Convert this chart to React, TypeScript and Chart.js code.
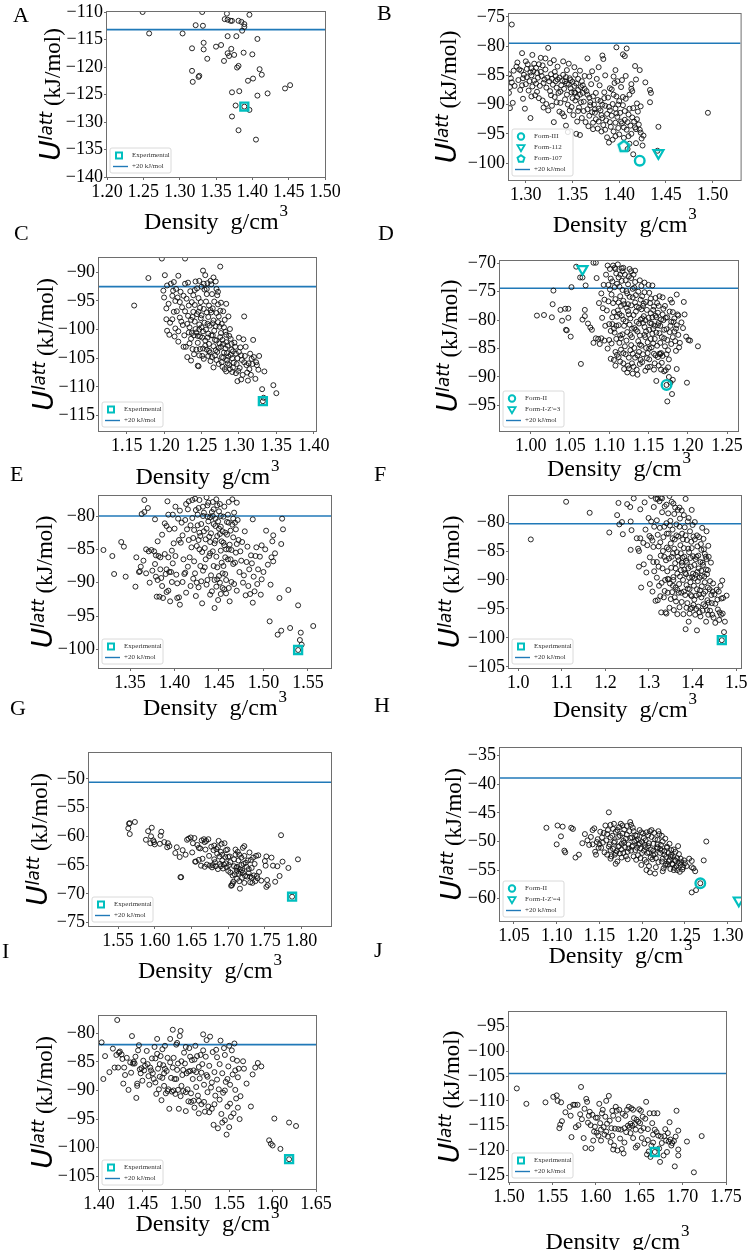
import React, { useEffect, useRef } from 'react';
import { Chart, registerables } from 'chart.js';
Chart.register(...registerables);

type Pt = [number, number];

// ---------------- DATA ----------------
const structuresA: Pt[] = [
  [1.249,-110.0],[1.258,-113.9],[1.331,-110.0],[1.322,-112.4],[1.332,-112.5],[1.304,-113.9],[1.317,-116.6],
  [1.333,-115.6],[1.333,-116.8],[1.338,-118.5],[1.350,-116.3],[1.357,-116.0],[1.317,-120.7],[1.318,-122.7],
  [1.326,-121.8],[1.327,-121.6],[1.362,-111.3],[1.365,-110.3],[1.366,-111.4],[1.370,-111.6],[1.372,-111.6],
  [1.366,-114.4],[1.378,-114.4],[1.381,-111.6],[1.385,-111.8],[1.389,-112.2],[1.389,-112.7],[1.386,-113.4],
  [1.396,-110.5],[1.407,-114.9],[1.371,-116.7],[1.366,-117.5],[1.368,-118.0],[1.375,-117.8],[1.388,-117.4],
  [1.400,-117.7],[1.361,-118.9],[1.379,-120.1],[1.381,-119.8],[1.410,-120.4],[1.413,-121.4],[1.394,-122.5],
  [1.401,-122.1],[1.372,-124.6],[1.382,-124.4],[1.407,-125.2],[1.421,-124.8],[1.445,-123.9],[1.452,-123.3],
  [1.377,-127.0],[1.389,-127.2],[1.396,-127.8],[1.372,-129.0],[1.381,-131.5],[1.405,-133.2]
];
const experimentalA: Pt[] = [[1.389, -127.2]];
const cutoffA = -113.2;
const xTicksA = [1.20, 1.25, 1.30, 1.35, 1.40, 1.45, 1.50];
const yTicksA = [-140, -135, -130, -125, -120, -115, -110];

const structuresB: Pt[] = [
  [1.285,-76.3],[1.495,-91.4],[1.442,-93.8],[1.441,-97.9],[1.425,-97.0],[1.415,-98.5],[1.411,-96.7],[1.409,-97.6],
  [1.324,-80.3],[1.397,-80.2],[1.404,-81.4],[1.406,-81.7],[1.408,-80.4],[1.296,-81.2],[1.307,-81.5],[1.366,-82.1],
  [1.382,-81.6],[1.383,-82.2],[1.291,-82.8],[1.321,-82.1],[1.330,-82.4],[1.340,-82.6],[1.417,-83.4],[1.422,-84.1],
  [1.396,-84.1],[1.418,-85.7],[1.428,-86.2],[1.433,-87.5],[1.434,-88.0],[1.433,-89.6],[1.423,-90.3],[1.407,-85.1],
  [1.413,-86.5],[1.413,-87.3],
  [1.282,-84.8],[1.284,-85.5],[1.285,-86.2],[1.283,-87.0],[1.282,-88.0],[1.286,-89.7],[1.283,-90.6],[1.290,-83.5],
  [1.293,-84.0],[1.295,-84.2],[1.297,-85.5],[1.294,-87.5],[1.297,-89.0],[1.300,-86.5],[1.300,-82.6],[1.302,-83.1],
  [1.305,-84.5],[1.306,-85.0],[1.304,-86.0],[1.308,-84.3],[1.309,-83.0],[1.311,-83.7],[1.313,-85.4],[1.315,-86.8],
  [1.312,-87.8],[1.310,-88.4],[1.305,-92.3],[1.316,-84.4],[1.318,-83.3],[1.320,-85.7],[1.322,-87.1],[1.318,-89.3],
  [1.322,-89.9],[1.325,-86.0],[1.327,-84.8],[1.329,-86.6],[1.331,-88.7],[1.333,-87.1],[1.328,-90.2],[1.324,-91.0],
  [1.330,-93.0],[1.336,-85.4],[1.338,-86.7],[1.340,-84.9],[1.342,-86.0],[1.344,-88.3],[1.337,-89.7],[1.339,-91.5],
  [1.341,-92.0],[1.343,-93.6],[1.345,-90.0],[1.345,-94.7],[1.347,-85.5],[1.348,-87.2],[1.350,-88.9],[1.352,-86.8],
  [1.353,-89.3],[1.351,-91.8],[1.354,-95.0],[1.356,-87.5],[1.358,-88.3],[1.357,-90.5],[1.360,-86.0],[1.360,-92.3],
  [1.362,-89.5],[1.363,-85.1],[1.365,-87.7],[1.366,-90.8],[1.367,-93.7],[1.358,-95.2],[1.368,-88.8],[1.370,-86.5],
  [1.371,-91.3],[1.372,-93.1],[1.373,-90.0],[1.375,-88.0],[1.375,-92.5],[1.377,-94.1],[1.378,-90.7],[1.379,-86.7],
  [1.380,-89.4],[1.381,-91.8],[1.383,-93.5],[1.384,-87.9],[1.385,-90.2],[1.386,-92.7],[1.387,-95.6],[1.388,-88.8],
  [1.389,-96.5],[1.390,-91.0],[1.391,-93.8],[1.392,-87.4],[1.393,-89.9],[1.394,-94.6],[1.395,-86.3],[1.396,-90.7],
  [1.397,-88.6],[1.398,-92.1],[1.399,-94.0],[1.400,-89.4],[1.401,-91.4],[1.402,-87.0],[1.403,-93.2],[1.404,-90.1],
  [1.405,-95.7],[1.406,-92.6],[1.407,-89.0],[1.408,-94.3],[1.410,-91.7],[1.411,-88.3],[1.412,-93.6],[1.413,-95.0],
  [1.415,-90.6],[1.416,-92.9],[1.418,-94.2],[1.420,-91.2],[1.421,-93.4],[1.423,-94.8],[1.424,-95.8],[1.419,-89.8],
  [1.414,-87.7],[1.376,-85.6],[1.368,-85.2],[1.353,-84.9],[1.358,-84.2],[1.346,-83.0],[1.334,-83.5],[1.316,-82.0],
  [1.326,-82.9],[1.335,-88.0],[1.347,-91.0],[1.355,-92.9],[1.362,-91.1],[1.385,-94.3],[1.396,-95.4],[1.344,-86.4],
  [1.349,-87.9],[1.355,-88.7],[1.361,-88.0],[1.369,-90.1],[1.374,-91.4],[1.382,-92.3],[1.390,-93.0],[1.311,-86.4]
];
const structuresBExtra: Pt[] = [
  [1.292,-85.8],[1.296,-86.7],[1.298,-84.9],[1.301,-85.3],[1.303,-87.6],[1.306,-83.8],[1.307,-86.9],[1.309,-85.9],
  [1.312,-84.6],[1.314,-83.1],[1.317,-85.1],[1.319,-86.3],[1.321,-84.0],[1.323,-85.4],[1.326,-87.7],[1.328,-85.6],
  [1.331,-84.4],[1.332,-86.0],[1.334,-85.7],[1.337,-87.8],[1.339,-85.9],[1.341,-87.3],[1.343,-85.3],[1.346,-86.6],
  [1.348,-85.8],[1.350,-86.1],[1.352,-87.9],[1.354,-86.4],[1.356,-85.6],[1.359,-87.0],[1.361,-86.7],[1.314,-88.9],
  [1.319,-90.5],[1.327,-88.4],[1.333,-89.6],[1.336,-91.2],[1.342,-89.1],[1.349,-90.4],[1.353,-88.0],[1.356,-91.1],
  [1.359,-89.6],[1.363,-87.3],[1.366,-88.3],[1.369,-89.6],[1.372,-88.6],[1.374,-90.8],[1.377,-89.2],[1.380,-91.0],
  [1.382,-90.0],[1.384,-88.9],[1.387,-91.6],[1.389,-90.4],[1.392,-91.9],[1.394,-88.3],[1.397,-91.5],[1.399,-90.0],
  [1.402,-92.9],[1.404,-88.7],[1.406,-91.1],[1.409,-93.0],[1.411,-90.7],[1.414,-92.2],[1.417,-93.9],[1.419,-92.5],
  [1.422,-94.3],[1.426,-95.3],[1.378,-92.9],[1.372,-94.2],[1.368,-91.9],[1.364,-93.0],[1.390,-87.2],[1.394,-85.2],
  [1.398,-86.0],[1.403,-85.8],[1.385,-85.0],[1.378,-83.6],[1.371,-84.3],[1.352,-83.6],[1.344,-84.1],[1.332,-85.1],
  [1.306,-88.6],[1.299,-90.7],[1.301,-83.9],[1.288,-86.8],[1.287,-84.2],[1.381,-94.6],[1.393,-96.0],[1.400,-95.1],
  [1.410,-95.4],[1.418,-96.6],[1.405,-93.9],[1.396,-93.1]
];
const formIIIB: Pt[] = [[1.422, -99.6]];
const form112B: Pt[] = [[1.442, -98.3]];
const form107B: Pt[] = [[1.405, -97.1]];
const cutoffB = -79.5;
const xTicksB = [1.30, 1.35, 1.40, 1.45, 1.50];
const yTicksB = [-100, -95, -90, -85, -80, -75];

const structuresC: Pt[] = [
  [1.160,-95.8],[1.179,-91.0],[1.197,-87.6],[1.228,-87.6],[1.275,-89.0],[1.346,-109.7],[1.350,-111.1],[1.334,-107.3],
  [1.331,-110.4],[1.333,-111.9],[1.307,-97.7],[1.319,-101.8],[1.323,-105.7],[1.327,-104.6],[1.312,-108.9],[1.298,-109.0],
  [1.303,-108.7],[1.322,-108.6],[1.316,-107.9],[1.311,-107.5],
  [1.201,-90.5],[1.204,-92.3],[1.199,-93.2],[1.200,-94.4],[1.203,-96.3],[1.203,-98.2],[1.204,-100.2],[1.207,-100.9],
  [1.209,-92.0],[1.213,-91.7],[1.211,-94.1],[1.215,-95.0],[1.213,-96.9],[1.217,-96.8],[1.211,-98.2],[1.215,-99.8],
  [1.219,-100.3],[1.216,-92.9],[1.219,-90.6],[1.222,-93.4],[1.224,-96.1],[1.221,-97.9],[1.225,-99.2],[1.227,-101.0],
  [1.229,-103.0],[1.228,-92.0],[1.230,-94.6],[1.232,-97.6],[1.234,-99.6],[1.236,-101.6],[1.238,-103.4],[1.240,-104.3],
  [1.235,-93.3],[1.237,-95.2],[1.239,-96.9],[1.241,-98.6],[1.243,-100.5],[1.245,-102.3],[1.247,-104.5],[1.245,-106.3],
  [1.242,-91.6],[1.244,-92.8],[1.246,-94.5],[1.248,-96.2],[1.249,-98.0],[1.250,-99.6],[1.251,-101.4],[1.252,-103.3],
  [1.253,-105.1],[1.250,-92.5],[1.252,-89.7],[1.254,-93.0],[1.256,-95.1],[1.257,-97.0],[1.258,-99.0],[1.259,-100.7],
  [1.260,-102.5],[1.261,-104.0],[1.262,-105.5],[1.258,-91.9],[1.262,-91.5],[1.264,-93.8],[1.265,-96.3],[1.266,-98.4],
  [1.267,-100.2],[1.268,-101.8],[1.269,-103.6],[1.270,-105.3],[1.266,-90.9],[1.270,-92.9],[1.272,-95.6],[1.273,-97.7],
  [1.274,-99.5],[1.275,-101.3],[1.276,-103.0],[1.277,-104.8],[1.278,-106.5],[1.276,-95.3],[1.279,-96.8],[1.281,-98.3],
  [1.282,-100.4],[1.283,-102.2],[1.284,-104.1],[1.285,-105.9],[1.283,-107.3],[1.286,-97.7],[1.288,-99.9],[1.289,-101.6],
  [1.290,-103.5],[1.291,-105.0],[1.292,-106.6],[1.294,-102.3],[1.296,-104.2],[1.297,-106.0],[1.299,-107.2],[1.300,-101.4],
  [1.302,-103.1],[1.304,-105.3],[1.306,-101.7],[1.308,-104.6],[1.310,-106.2],[1.313,-105.9],[1.315,-104.2],[1.318,-106.0],
  [1.283,-95.5],[1.271,-94.0],[1.255,-90.5],[1.263,-97.0],[1.247,-100.0],[1.233,-100.5],[1.226,-103.0],[1.238,-97.8],
  [1.257,-103.5],[1.265,-101.0],[1.273,-103.2],[1.280,-104.0],[1.287,-106.2],[1.279,-102.5],[1.259,-104.6],[1.243,-103.5],
  [1.246,-106.4],[1.248,-101.2],[1.255,-101.9],[1.266,-106.6],[1.270,-97.1],[1.277,-99.0],[1.260,-95.8],[1.332,-112.5]
];
const structuresCExtra: Pt[] = [
  [1.221,-95.2],[1.223,-98.6],[1.226,-94.1],[1.228,-96.8],[1.231,-99.0],[1.233,-95.8],[1.234,-102.4],[1.236,-98.3],
  [1.237,-100.6],[1.239,-94.0],[1.240,-101.0],[1.241,-95.7],[1.242,-99.9],[1.244,-97.3],[1.245,-101.1],[1.246,-96.9],
  [1.247,-99.1],[1.248,-103.4],[1.249,-95.2],[1.250,-97.5],[1.251,-104.6],[1.252,-100.3],[1.253,-96.4],[1.254,-98.8],
  [1.255,-102.8],[1.256,-100.0],[1.257,-93.8],[1.258,-101.4],[1.259,-97.8],[1.260,-103.7],[1.261,-99.3],[1.262,-96.6],
  [1.263,-101.0],[1.264,-104.8],[1.265,-98.9],[1.266,-102.9],[1.267,-95.1],[1.268,-104.5],[1.269,-99.4],[1.270,-101.9],
  [1.271,-103.9],[1.272,-98.7],[1.273,-106.0],[1.274,-102.4],[1.275,-96.7],[1.276,-100.6],[1.277,-105.7],[1.278,-101.8],
  [1.279,-104.9],[1.280,-99.6],[1.281,-106.9],[1.282,-103.3],[1.283,-100.9],[1.284,-105.3],[1.285,-102.8],[1.286,-104.7],
  [1.287,-101.1],[1.288,-106.9],[1.289,-104.4],[1.290,-102.5],[1.291,-107.4],[1.292,-103.8],[1.293,-105.8],[1.295,-103.0],
  [1.296,-107.6],[1.298,-105.0],[1.300,-103.9],[1.301,-106.7],[1.303,-104.5],[1.305,-107.9],[1.307,-105.7],[1.309,-103.0],
  [1.314,-106.9],[1.317,-105.1],[1.320,-104.8],[1.324,-106.2],[1.326,-107.0],[1.232,-91.8],[1.241,-93.1],[1.247,-91.5],
  [1.253,-92.0],[1.257,-92.9],[1.263,-92.1],[1.269,-91.6],[1.272,-93.4],[1.236,-105.4],[1.231,-104.8],[1.219,-102.1],
  [1.214,-101.2],[1.208,-98.8],[1.206,-95.5],[1.212,-93.2],[1.218,-94.4]
];
const experimentalC: Pt[] = [[1.332, -112.5]];
const cutoffC = -92.5;
const xTicksC = [1.15, 1.20, 1.25, 1.30, 1.35, 1.40];
const yTicksC = [-115, -110, -105, -100, -95, -90];

const structuresD: Pt[] = [
  [1.008,-79.2],[1.017,-79.1],[1.027,-79.5],[1.028,-77.2],[1.029,-74.8],[1.038,-78.2],[1.040,-80.1],[1.044,-78.0],
  [1.045,-81.7],[1.046,-81.8],[1.048,-78.0],[1.048,-79.6],[1.051,-82.9],[1.052,-74.2],[1.058,-70.6],[1.063,-72.5],
  [1.066,-72.5],[1.064,-87.7],[1.066,-79.9],[1.069,-79.3],[1.069,-78.2],[1.070,-73.9],[1.073,-80.6],[1.076,-81.3],
  [1.078,-81.7],[1.080,-69.9],[1.083,-69.9],[1.080,-84.0],[1.083,-83.2],[1.084,-72.6],[1.086,-83.3],[1.088,-84.2],
  [1.090,-75.3],[1.090,-83.2],[1.092,-77.9],[1.093,-73.8],[1.094,-83.6],[1.094,-76.4],[1.096,-72.0],[1.097,-78.3],
  [1.098,-70.4],[1.099,-76.7],[1.100,-83.5],[1.100,-80.7],[1.101,-71.0],[1.102,-86.8],
  [1.213,-84.6],[1.201,-83.5],[1.203,-83.6],[1.198,-82.9],[1.196,-79.0],[1.195,-76.8],[1.194,-81.4],[1.199,-91.0],
  [1.186,-75.5],[1.181,-90.5],[1.180,-93.0],[1.174,-94.3],[1.178,-91.0],[1.186,-88.6],[1.175,-88.3],[1.170,-89.0],
  [1.160,-90.7],[1.165,-86.0],[1.190,-84.0],[1.192,-80.4],[1.185,-81.5],[1.188,-79.2],
  [1.101,-74.6],[1.103,-75.5],[1.104,-73.2],[1.105,-77.0],[1.106,-78.6],[1.104,-80.7],[1.107,-82.2],[1.103,-84.1],
  [1.108,-85.6],[1.106,-87.0],[1.109,-71.8],[1.108,-76.3],[1.110,-79.4],[1.102,-81.9],[1.109,-83.3],
  [1.111,-70.2],[1.112,-72.5],[1.113,-74.1],[1.114,-75.8],[1.115,-77.5],[1.116,-79.2],[1.112,-80.9],[1.117,-82.5],
  [1.113,-84.0],[1.118,-85.8],[1.114,-87.3],[1.119,-88.6],[1.116,-73.1],[1.118,-76.6],[1.111,-78.3],[1.119,-81.0],
  [1.115,-83.2],[1.117,-71.4],
  [1.121,-73.0],[1.122,-74.9],[1.123,-75.3],[1.124,-77.2],[1.125,-79.0],[1.126,-80.8],[1.127,-82.6],[1.128,-84.4],
  [1.121,-86.0],[1.129,-87.6],[1.123,-89.2],[1.126,-71.0],[1.128,-72.6],[1.130,-76.0],[1.124,-78.4],[1.129,-81.5],
  [1.122,-83.6],[1.127,-85.3],[1.125,-88.5],[1.130,-89.4],
  [1.131,-72.0],[1.132,-74.3],[1.133,-76.9],[1.134,-78.5],[1.135,-80.3],[1.136,-82.0],[1.137,-83.7],[1.138,-85.6],
  [1.139,-87.7],[1.131,-88.2],[1.136,-89.6],[1.134,-75.6],[1.138,-77.8],[1.140,-79.9],[1.132,-81.4],[1.139,-84.3],
  [1.133,-86.6],
  [1.141,-74.0],[1.142,-75.8],[1.143,-77.5],[1.144,-79.3],[1.145,-81.2],[1.146,-83.0],[1.147,-84.9],[1.148,-86.7],
  [1.149,-88.3],[1.141,-78.1],[1.143,-80.5],[1.145,-82.6],[1.147,-76.8],[1.149,-85.8],[1.150,-73.8],[1.142,-87.4],
  [1.151,-75.2],[1.152,-77.0],[1.153,-78.8],[1.154,-80.6],[1.155,-82.4],[1.156,-84.1],[1.157,-85.9],[1.158,-87.6],
  [1.159,-76.1],[1.160,-79.5],[1.151,-81.7],[1.153,-83.3],[1.156,-78.2],[1.158,-81.0],[1.155,-73.9],[1.159,-86.2],
  [1.152,-88.2],
  [1.161,-77.0],[1.162,-78.7],[1.163,-80.5],[1.164,-82.3],[1.165,-84.0],[1.166,-85.8],[1.167,-87.5],[1.168,-76.0],
  [1.169,-80.0],[1.170,-83.2],[1.162,-86.5],[1.166,-88.7],[1.168,-79.0],[1.164,-75.8],
  [1.171,-77.5],[1.172,-79.6],[1.173,-81.6],[1.174,-83.5],[1.175,-85.3],[1.176,-86.9],[1.177,-78.5],[1.178,-81.0],
  [1.179,-84.2],[1.180,-76.9],[1.172,-88.8],[1.176,-90.0],[1.178,-76.4],
  [1.181,-78.6],[1.182,-80.3],[1.183,-82.0],[1.184,-83.7],[1.185,-85.4],[1.186,-80.9],[1.187,-79.0],[1.188,-82.6],
  [1.189,-84.8],[1.105,-70.4],[1.108,-71.0],[1.118,-70.8],[1.128,-71.4],[1.173,-91.4]
];
const structuresDExtra: Pt[] = [
  [1.102,-72.7],[1.104,-79.5],[1.107,-74.2],[1.109,-81.0],[1.110,-86.1],[1.112,-76.9],[1.113,-78.9],[1.114,-82.7],
  [1.115,-85.2],[1.116,-70.9],[1.117,-74.7],[1.118,-79.9],[1.119,-77.2],[1.120,-84.6],[1.120,-72.0],[1.121,-80.2],
  [1.122,-77.8],[1.123,-82.1],[1.124,-73.7],[1.125,-86.6],[1.126,-75.9],[1.127,-79.7],[1.128,-77.4],[1.129,-83.0],
  [1.130,-74.5],[1.131,-79.1],[1.132,-84.9],[1.133,-73.3],[1.134,-81.7],[1.135,-77.6],[1.136,-86.2],[1.137,-75.0],
  [1.138,-80.6],[1.139,-82.7],[1.140,-76.4],[1.141,-84.5],[1.142,-79.7],[1.143,-86.0],[1.144,-77.1],[1.145,-75.1],
  [1.146,-80.0],[1.147,-82.0],[1.148,-78.2],[1.149,-83.9],[1.150,-79.6],[1.151,-86.9],[1.152,-80.5],[1.153,-76.2],
  [1.154,-84.8],[1.155,-79.5],[1.156,-81.5],[1.157,-77.6],[1.158,-83.3],[1.159,-79.2],[1.160,-82.2],[1.161,-84.5],
  [1.162,-80.9],[1.163,-77.5],[1.164,-85.9],[1.165,-81.0],[1.166,-79.9],[1.167,-83.0],[1.168,-86.3],[1.169,-78.0],
  [1.170,-81.7],[1.171,-84.6],[1.173,-86.0],[1.174,-79.5],[1.177,-82.1],[1.179,-80.3],[1.181,-83.0],[1.183,-79.7],
  [1.106,-81.5],[1.108,-88.0],[1.112,-86.5],[1.118,-87.6],[1.124,-88.0],[1.130,-85.9],[1.135,-88.7],[1.140,-87.0],
  [1.146,-88.9],[1.151,-85.0],[1.157,-88.7],[1.163,-88.0],[1.110,-73.6],[1.114,-72.0],[1.125,-72.3],[1.133,-71.3],
  [1.139,-73.0],[1.145,-73.4],[1.107,-70.8],[1.098,-85.0],[1.095,-81.0],[1.091,-79.6],[1.087,-77.0],[1.099,-73.8]
];
const formIID: Pt[] = [[1.173, -91.4]];
const formIZ3D: Pt[] = [[1.066, -71.0]];
const cutoffD = -74.4;
const xTicksD = [1.00, 1.05, 1.10, 1.15, 1.20, 1.25];
const yTicksD = [-95, -90, -85, -80, -75, -70];

const structuresE: Pt[] = [
  [1.320,-85.1],[1.330,-86.0],[1.332,-88.7],[1.340,-83.9],[1.343,-84.6],[1.345,-89.1],[1.357,-86.2],[1.360,-88.4],
  [1.361,-88.3],[1.362,-87.6],[1.356,-90.6],[1.363,-79.7],[1.366,-79.4],[1.370,-78.8],[1.366,-77.6],[1.368,-85.0],
  [1.371,-85.3],[1.374,-85.1],[1.377,-85.3],[1.379,-85.9],[1.378,-87.2],[1.378,-80.5],[1.379,-89.1],[1.381,-89.6],
  [1.382,-86.0],[1.384,-86.2],[1.384,-88.0],[1.385,-89.3],[1.380,-92.1],[1.383,-92.1],[1.387,-92.3],[1.389,-85.7],
  [1.390,-88.7],[1.391,-88.0],[1.391,-91.4],[1.393,-91.2],[1.393,-86.2],[1.394,-88.4],[1.396,-88.4],[1.397,-85.2],
  [1.398,-87.1],[1.389,-81.1],[1.391,-81.5],[1.393,-79.8],[1.394,-82.0],[1.392,-77.8],[1.398,-79.8],[1.400,-81.9],
  [1.401,-86.0],[1.402,-88.8],[1.403,-92.3],[1.405,-92.2],[1.406,-93.3],[1.405,-83.6],[1.407,-84.0],[1.408,-81.0],
  [1.406,-79.2],[1.410,-86.5],[1.411,-88.7],[1.412,-88.5],[1.413,-91.5],[1.413,-78.2],[1.414,-82.0],[1.416,-83.6],
  [1.417,-86.2],[1.418,-90.5],[1.420,-80.3],[1.421,-83.3],[1.422,-86.8],[1.423,-88.6],[1.423,-77.4],[1.424,-92.0],
  [1.425,-90.0],[1.426,-81.4],[1.427,-83.6],[1.428,-85.0],[1.429,-87.5],[1.430,-89.8],[1.431,-93.1],[1.432,-80.0],
  [1.433,-82.3],[1.434,-84.8],[1.435,-86.5],[1.436,-90.3],[1.437,-78.4],[1.438,-80.8],[1.439,-83.1],[1.440,-85.6],
  [1.441,-88.9],[1.442,-91.3],[1.443,-77.9],[1.444,-81.2],[1.445,-93.8],[1.446,-83.7],[1.447,-86.1],[1.448,-89.5],
  [1.449,-92.6],[1.450,-79.3],[1.451,-82.7],[1.452,-85.2],[1.453,-87.0],[1.454,-90.8],[1.455,-84.0],[1.456,-78.6],
  [1.457,-88.7],[1.458,-91.6],[1.459,-80.9],[1.460,-86.5],[1.461,-85.0],[1.462,-92.8],[1.463,-82.2],[1.464,-89.9],
  [1.465,-77.5],[1.466,-87.2],[1.467,-90.2],[1.468,-81.0],[1.469,-85.5],[1.470,-91.2],[1.472,-83.6],[1.473,-88.4],
  [1.475,-86.7],[1.477,-90.0],[1.479,-82.3],[1.480,-91.9],[1.482,-84.6],[1.484,-88.0],[1.485,-91.7],[1.486,-85.9],
  [1.488,-80.5],[1.488,-93.0],[1.489,-89.1],[1.490,-91.3],[1.492,-84.7],[1.494,-88.0],[1.496,-86.1],[1.498,-84.4],
  [1.498,-89.5],[1.503,-82.2],[1.505,-87.3],[1.507,-95.8],[1.508,-90.3],[1.509,-86.2],[1.510,-83.8],[1.511,-86.8],
  [1.513,-85.6],[1.511,-82.9],[1.516,-97.8],[1.518,-92.3],[1.520,-97.2],[1.520,-84.2],[1.521,-80.4],[1.522,-82.0],
  [1.528,-91.1],[1.530,-96.8],[1.539,-93.4],[1.541,-98.6],[1.542,-97.5],[1.543,-99.3],[1.556,-96.5],[1.539,-100.1],
  [1.420,-77.6],[1.424,-79.1],[1.427,-78.8],[1.430,-81.2],[1.433,-79.5],[1.436,-81.9],[1.438,-78.0],[1.440,-80.2],
  [1.441,-82.6],[1.443,-80.0],[1.444,-79.0],[1.445,-84.1],[1.446,-81.5],[1.447,-77.5],[1.448,-83.0],[1.449,-80.8],
  [1.451,-78.2],[1.452,-81.6],[1.453,-83.8],[1.455,-80.1],[1.457,-82.5],[1.458,-85.0],[1.460,-79.8],[1.462,-84.3],
  [1.463,-86.5],[1.465,-81.3],[1.466,-83.2],[1.467,-79.5],[1.468,-87.0],[1.470,-84.2],[1.428,-82.5],[1.425,-84.5],
  [1.434,-87.7],[1.439,-86.0],[1.444,-87.5],[1.450,-89.0],[1.455,-87.5],[1.458,-89.6],[1.461,-90.8],[1.452,-91.7],
  [1.456,-91.0],[1.447,-90.6]
];
const structuresEExtra: Pt[] = [
  [1.404,-80.4],[1.409,-82.9],[1.412,-80.6],[1.415,-79.0],[1.418,-81.4],[1.419,-84.7],[1.422,-82.1],[1.426,-79.8],
  [1.429,-83.0],[1.431,-85.4],[1.432,-78.6],[1.435,-83.5],[1.437,-80.1],[1.440,-83.9],[1.442,-79.4],[1.443,-85.3],
  [1.446,-80.4],[1.448,-78.4],[1.450,-81.9],[1.452,-80.0],[1.454,-82.3],[1.456,-84.4],[1.459,-82.8],[1.461,-81.0],
  [1.464,-85.1],[1.466,-80.4],[1.469,-82.0],[1.471,-80.6],[1.474,-85.3],[1.476,-83.9],[1.478,-88.9],[1.481,-86.9],
  [1.483,-90.5],[1.487,-87.1],[1.491,-86.0],[1.493,-90.2],[1.497,-91.8],[1.500,-88.4],[1.502,-85.0],[1.457,-86.2],
  [1.454,-88.6],[1.451,-90.0],[1.448,-87.7],[1.445,-89.6],[1.440,-91.8],[1.437,-89.6],[1.432,-88.2],[1.427,-90.7],
  [1.421,-89.4],[1.415,-87.6],[1.409,-89.9],[1.403,-90.1],[1.397,-89.9],[1.395,-92.8],[1.386,-90.5],[1.375,-88.2],
  [1.372,-90.0],[1.368,-88.6],[1.365,-86.7],[1.381,-83.8],[1.386,-82.8],[1.399,-84.1],[1.401,-78.6],[1.416,-77.8],
  [1.428,-77.6],[1.436,-77.2],[1.461,-77.9],[1.470,-78.0]
];
const experimentalE: Pt[] = [[1.539, -100.1]];
const cutoffE = -80.0;
const xTicksE = [1.35, 1.40, 1.45, 1.50, 1.55];
const yTicksE = [-100, -95, -90, -85, -80];

const structuresF: Pt[] = [
  [1.029,-83.0],[1.110,-76.5],[1.164,-78.4],[1.209,-81.8],[1.227,-78.8],[1.230,-76.7],[1.232,-80.4],[1.238,-80.0],
  [1.240,-82.1],[1.250,-76.9],[1.257,-77.4],[1.258,-79.9],[1.260,-81.4],[1.258,-84.8],[1.265,-75.9],[1.272,-82.8],
  [1.275,-84.6],[1.277,-85.0],[1.280,-77.8],[1.280,-82.8],[1.277,-87.7],[1.282,-91.3],[1.288,-87.3],[1.294,-88.7],
  [1.299,-79.3],[1.302,-86.1],[1.302,-90.7],[1.305,-79.9],[1.305,-82.7],[1.308,-83.2],[1.308,-92.0],[1.310,-86.9],
  [1.311,-77.4],[1.312,-80.8],[1.312,-88.5],[1.315,-93.6],[1.316,-76.0],[1.318,-86.9],[1.318,-89.6],[1.320,-82.2],
  [1.322,-84.2],[1.323,-91.0],[1.324,-76.4],[1.325,-81.0],[1.327,-85.8],[1.328,-95.6],[1.330,-78.3],[1.331,-88.0],
  [1.333,-82.6],[1.334,-93.0],[1.335,-86.0],[1.336,-77.3],[1.337,-90.0],[1.338,-95.6],[1.340,-80.2],[1.341,-84.4],
  [1.342,-88.5],[1.343,-92.2],[1.344,-78.5],[1.345,-82.0],[1.346,-86.3],[1.347,-94.8],[1.348,-90.6],[1.349,-79.8],
  [1.350,-83.7],[1.351,-87.9],[1.352,-76.5],[1.353,-92.1],[1.354,-81.3],[1.355,-85.4],[1.356,-89.5],[1.357,-95.2],
  [1.358,-78.6],[1.359,-83.0],[1.360,-87.1],[1.361,-91.3],[1.362,-93.7],[1.363,-80.4],[1.364,-85.2],[1.365,-88.9],
  [1.366,-77.9],[1.367,-82.5],[1.368,-86.6],[1.369,-90.7],[1.370,-94.7],[1.371,-79.4],[1.372,-84.0],[1.373,-88.3],
  [1.374,-92.2],[1.375,-78.0],[1.376,-82.0],[1.377,-86.2],[1.378,-90.0],[1.379,-95.9],[1.380,-84.5],[1.381,-88.2],
  [1.382,-80.9],[1.383,-92.6],[1.384,-98.5],[1.385,-86.7],[1.386,-90.9],[1.387,-83.1],[1.388,-94.0],[1.389,-79.9],
  [1.390,-88.0],[1.391,-97.2],[1.392,-85.2],[1.393,-91.6],[1.394,-81.6],[1.395,-95.0],[1.396,-87.7],[1.397,-83.4],
  [1.398,-92.8],[1.399,-89.5],[1.400,-80.5],[1.401,-85.9],[1.402,-94.3],[1.403,-91.0],[1.404,-87.4],[1.405,-83.0],
  [1.406,-96.0],[1.407,-89.1],[1.408,-92.7],[1.409,-86.0],[1.410,-98.7],[1.411,-84.2],[1.412,-90.2],[1.413,-94.6],
  [1.414,-88.0],[1.415,-82.6],[1.416,-95.6],[1.417,-91.8],[1.418,-86.9],[1.419,-83.8],[1.420,-93.0],[1.421,-89.3],
  [1.422,-81.0],[1.423,-95.3],[1.424,-87.4],[1.425,-92.4],[1.426,-84.7],[1.428,-90.4],[1.429,-94.5],[1.430,-86.0],
  [1.431,-97.2],[1.432,-81.6],[1.433,-89.0],[1.434,-93.5],[1.435,-88.3],[1.436,-96.0],[1.437,-86.0],[1.439,-91.6],
  [1.440,-95.3],[1.442,-87.0],[1.444,-94.0],[1.446,-92.0],[1.448,-96.5],[1.450,-92.5],[1.452,-97.4],[1.455,-91.7],
  [1.458,-95.1],[1.460,-92.0],[1.462,-95.6],[1.464,-91.0],[1.466,-93.2],[1.468,-90.1],[1.469,-95.8],[1.472,-99.0],
  [1.474,-97.2],[1.478,-92.7],[1.467,-100.4],[1.290,-76.6],[1.305,-75.5],[1.320,-76.0],[1.327,-75.8],[1.347,-75.5],
  [1.384,-76.0],[1.360,-77.5],[1.345,-89.9],[1.355,-91.0],[1.365,-91.7],[1.375,-87.0],[1.385,-89.0],[1.395,-90.4]
];
const structuresFExtra: Pt[] = [
  [1.322,-87.7],[1.326,-83.5],[1.329,-90.5],[1.332,-85.0],[1.335,-80.8],[1.336,-91.9],[1.339,-86.6],[1.341,-82.0],
  [1.343,-89.8],[1.345,-84.7],[1.348,-80.6],[1.350,-93.3],[1.352,-86.0],[1.354,-82.8],[1.356,-90.0],[1.358,-84.6],
  [1.359,-93.0],[1.361,-88.0],[1.363,-82.3],[1.365,-95.9],[1.366,-86.0],[1.368,-92.2],[1.370,-80.8],[1.371,-89.4],
  [1.373,-85.4],[1.375,-93.8],[1.376,-87.5],[1.378,-83.0],[1.380,-92.0],[1.381,-86.0],[1.383,-88.8],[1.384,-82.3],
  [1.386,-94.8],[1.387,-87.0],[1.389,-91.5],[1.390,-84.6],[1.392,-89.6],[1.393,-95.8],[1.395,-86.2],[1.396,-92.6],
  [1.398,-84.5],[1.399,-94.8],[1.401,-88.9],[1.402,-82.5],[1.404,-93.4],[1.405,-89.7],[1.407,-86.4],[1.408,-95.0],
  [1.410,-91.6],[1.411,-88.6],[1.413,-85.8],[1.415,-92.5],[1.416,-89.6],[1.418,-96.3],[1.420,-88.4],[1.421,-91.1],
  [1.423,-87.0],[1.425,-94.2],[1.427,-89.4],[1.429,-92.0],[1.431,-88.2],[1.433,-95.2],[1.435,-91.3],[1.437,-93.9],
  [1.440,-90.2],[1.443,-92.6],[1.445,-96.0],[1.447,-90.6],[1.452,-94.1],[1.457,-93.4],[1.461,-96.9],[1.465,-96.0],
  [1.470,-93.1],[1.330,-75.9],[1.340,-77.0],[1.356,-76.8],[1.370,-77.5],[1.380,-78.8],[1.391,-79.3],[1.398,-77.9],
  [1.405,-80.0],[1.410,-82.3],[1.420,-84.8],[1.425,-82.9],[1.428,-85.5],[1.432,-86.4],[1.436,-84.1],[1.318,-79.7],
  [1.310,-84.3],[1.301,-82.4],[1.296,-84.0],[1.292,-81.3],[1.287,-83.6],[1.320,-93.5],[1.326,-92.8],[1.340,-95.8]
];
const experimentalF: Pt[] = [[1.467, -100.4]];
const cutoffF = -80.3;
const xTicksF = [1.0, 1.1, 1.2, 1.3, 1.4, 1.5];
const yTicksF = [-105, -100, -95, -90, -85, -80];

const structuresG: Pt[] = [
  [1.565,-57.8],[1.564,-58.6],[1.566,-59.6],[1.566,-57.7],[1.573,-57.5],[1.588,-60.6],[1.591,-59.1],[1.594,-61.2],
  [1.595,-60.0],[1.596,-58.5],[1.598,-60.7],[1.599,-61.0],[1.600,-61.4],[1.607,-61.3],[1.608,-59.9],[1.609,-59.2],
  [1.613,-61.0],[1.617,-61.9],[1.618,-61.2],[1.620,-61.7],[1.630,-61.9],[1.634,-63.6],[1.635,-67.1],[1.636,-67.1],
  [1.644,-60.6],[1.646,-60.4],[1.649,-60.2],[1.652,-61.2],[1.654,-60.3],[1.655,-64.4],[1.656,-64.4],[1.658,-61.5],
  [1.660,-62.0],[1.662,-62.1],[1.663,-65.1],[1.664,-60.7],[1.665,-63.9],[1.667,-60.5],[1.668,-61.0],[1.669,-62.3],
  [1.670,-60.8],[1.671,-64.9],[1.673,-60.5],[1.675,-65.1],[1.677,-61.8],[1.678,-65.4],[1.679,-65.0],[1.680,-62.4],
  [1.681,-61.6],[1.682,-64.5],[1.683,-65.2],[1.684,-62.2],[1.685,-63.0],[1.686,-65.7],[1.687,-60.8],[1.688,-63.5],
  [1.689,-64.8],[1.690,-62.7],[1.690,-65.2],[1.691,-61.3],[1.692,-63.2],[1.693,-65.6],[1.694,-64.9],[1.695,-61.2],
  [1.696,-63.6],[1.697,-64.7],[1.698,-65.4],[1.699,-62.3],[1.700,-63.6],[1.700,-66.0],[1.701,-65.0],[1.702,-63.5],
  [1.703,-66.3],[1.704,-68.6],[1.705,-68.5],[1.706,-68.2],[1.707,-67.9],[1.708,-65.2],[1.709,-66.6],[1.710,-63.2],
  [1.710,-62.3],[1.711,-65.5],[1.712,-66.0],[1.712,-67.4],[1.713,-62.7],[1.714,-64.2],[1.714,-66.5],[1.715,-67.8],
  [1.716,-65.7],[1.716,-69.1],[1.717,-66.2],[1.718,-63.7],[1.718,-65.0],[1.719,-67.2],[1.720,-62.0],[1.720,-66.3],
  [1.721,-64.8],[1.722,-61.7],[1.722,-63.4],[1.723,-66.9],[1.725,-65.3],[1.726,-67.0],[1.727,-64.2],[1.728,-65.7],
  [1.729,-62.8],[1.730,-67.0],[1.730,-68.0],[1.731,-64.1],[1.732,-65.5],[1.733,-68.1],[1.734,-63.7],[1.735,-66.8],
  [1.737,-67.8],[1.738,-63.4],[1.739,-66.9],[1.740,-67.3],[1.741,-63.3],[1.750,-64.3],[1.751,-65.1],[1.752,-63.5],
  [1.753,-67.6],[1.754,-68.5],[1.752,-68.8],[1.759,-63.7],[1.761,-65.1],[1.764,-67.9],[1.767,-65.2],[1.770,-66.9],
  [1.772,-59.8],[1.774,-64.4],[1.782,-65.5],[1.795,-64.0],[1.787,-70.5],
  [1.660,-64.1],[1.668,-65.3],[1.674,-63.4],[1.681,-64.0],[1.686,-61.9],[1.692,-64.2],[1.697,-62.4],[1.703,-64.5],
  [1.706,-66.8],[1.708,-64.0],[1.712,-65.3],[1.715,-63.2],[1.719,-65.9],[1.722,-68.1],[1.724,-64.6],[1.728,-66.4],
  [1.732,-67.2],[1.736,-64.8],[1.742,-66.2],[1.745,-67.7],[1.638,-62.4],[1.642,-63.2],[1.651,-62.8],[1.628,-62.9]
];
const experimentalG: Pt[] = [[1.787, -70.5]];
const cutoffG = -50.6;
const xTicksG = [1.55, 1.60, 1.65, 1.70, 1.75, 1.80];
const yTicksG = [-75, -70, -65, -60, -55, -50];

const structuresH: Pt[] = [
  [1.088,-47.6],[1.100,-50.5],[1.101,-47.2],[1.105,-49.1],[1.107,-47.4],[1.109,-51.6],[1.110,-51.9],[1.117,-47.6],
  [1.119,-47.8],[1.122,-52.8],[1.126,-52.3],[1.133,-48.7],[1.140,-49.2],[1.142,-48.0],[1.142,-50.5],[1.144,-47.7],
  [1.146,-52.3],[1.147,-50.1],[1.149,-51.1],[1.150,-50.5],[1.152,-51.1],[1.153,-49.3],[1.155,-48.5],[1.157,-47.2],
  [1.158,-49.8],[1.159,-52.3],[1.160,-48.0],[1.161,-44.9],[1.162,-50.5],[1.163,-47.1],[1.164,-52.6],[1.165,-49.0],
  [1.166,-51.3],[1.167,-46.9],[1.168,-50.0],[1.169,-48.3],[1.170,-51.7],[1.171,-53.5],[1.172,-49.2],[1.173,-47.5],
  [1.174,-52.1],[1.175,-46.9],[1.176,-50.4],[1.177,-48.6],[1.178,-52.0],[1.179,-47.9],[1.180,-51.0],[1.181,-49.5],
  [1.182,-47.3],[1.183,-53.1],[1.184,-50.5],[1.185,-48.2],[1.186,-46.6],[1.187,-51.6],[1.188,-49.3],[1.189,-47.6],
  [1.190,-52.6],[1.191,-50.0],[1.192,-48.9],[1.193,-53.2],[1.194,-51.1],[1.195,-49.6],[1.196,-50.6],[1.197,-48.0],
  [1.198,-52.9],[1.199,-54.1],[1.200,-50.1],[1.201,-48.6],[1.202,-51.6],[1.203,-53.2],[1.204,-49.8],[1.205,-48.4],
  [1.206,-52.0],[1.207,-50.8],[1.208,-54.3],[1.209,-55.4],[1.209,-48.2],[1.210,-51.4],[1.211,-49.2],[1.212,-53.1],
  [1.213,-50.4],[1.214,-48.5],[1.215,-52.2],[1.216,-54.5],[1.217,-51.2],[1.218,-49.7],[1.219,-53.6],[1.220,-48.7],
  [1.221,-52.0],[1.222,-50.6],[1.223,-49.0],[1.224,-53.0],[1.225,-54.7],[1.226,-51.7],[1.227,-49.5],[1.228,-52.7],
  [1.229,-50.9],[1.230,-54.0],[1.231,-52.0],[1.232,-53.2],[1.233,-54.8],[1.234,-51.5],[1.235,-53.9],[1.236,-52.6],
  [1.237,-55.0],[1.238,-53.2],[1.239,-51.8],[1.240,-54.3],[1.241,-52.9],[1.242,-50.8],[1.243,-53.8],[1.244,-55.3],
  [1.245,-54.1],[1.246,-53.6],[1.248,-54.5],[1.250,-53.8],[1.258,-54.5],[1.258,-53.4],[1.260,-54.7],[1.262,-55.2],
  [1.258,-58.9],[1.263,-58.5],[1.272,-53.3],[1.275,-50.0],[1.268,-57.3],
  [1.163,-51.5],[1.168,-52.3],[1.173,-50.8],[1.178,-49.9],[1.183,-51.8],[1.188,-50.9],[1.193,-49.8],[1.198,-51.2],
  [1.203,-50.6],[1.208,-51.9],[1.213,-52.4],[1.218,-51.0],[1.223,-51.6],[1.228,-53.9],[1.233,-52.6],[1.238,-54.6]
];
const structuresHExtra: Pt[] = [
  [1.151,-48.3],[1.154,-50.2],[1.156,-51.9],[1.159,-48.7],[1.161,-50.9],[1.163,-49.3],[1.166,-47.8],[1.167,-50.2],
  [1.169,-52.0],[1.171,-48.0],[1.172,-50.9],[1.174,-49.0],[1.176,-51.4],[1.177,-47.2],[1.179,-50.2],[1.181,-52.6],
  [1.182,-48.8],[1.184,-51.2],[1.186,-49.4],[1.187,-47.1],[1.189,-50.7],[1.190,-48.2],[1.192,-51.5],[1.194,-49.0],
  [1.195,-52.4],[1.197,-50.3],[1.199,-48.4],[1.200,-52.0],[1.202,-49.4],[1.204,-51.0],[1.205,-53.6],[1.207,-48.9],
  [1.208,-50.3],[1.210,-52.8],[1.211,-48.0],[1.213,-51.6],[1.215,-49.6],[1.216,-52.9],[1.218,-50.5],[1.219,-48.2],
  [1.221,-51.3],[1.223,-53.5],[1.224,-50.0],[1.226,-52.3],[1.227,-54.2],[1.229,-51.1],[1.231,-53.5],[1.232,-50.4],
  [1.234,-52.3],[1.236,-54.0],[1.237,-51.4],[1.239,-53.4],[1.241,-55.0],[1.243,-52.2],[1.245,-53.0],[1.247,-54.9],
  [1.249,-53.3],[1.252,-54.3],[1.255,-53.0],[1.163,-53.0],[1.169,-53.9],[1.176,-52.8],[1.148,-49.6],[1.145,-51.8],
  [1.138,-50.6],[1.136,-49.8],[1.130,-50.3],[1.205,-55.0],[1.215,-55.6],[1.224,-55.2]
];
const formIIH: Pt[] = [[1.268, -57.3]];
const formIZ4H: Pt[] = [[1.313, -60.3]];
const cutoffH = -38.9;
const xTicksH = [1.05, 1.10, 1.15, 1.20, 1.25, 1.30];
const yTicksH = [-60, -55, -50, -45, -40, -35];

const structuresI: Pt[] = [
  [1.403,-81.6],[1.405,-88.0],[1.407,-84.0],[1.412,-86.8],[1.416,-82.7],[1.418,-86.0],[1.420,-83.8],[1.421,-77.7],
  [1.422,-86.0],[1.423,-83.4],[1.424,-83.2],[1.426,-83.7],[1.427,-84.5],[1.428,-88.8],[1.429,-86.0],[1.430,-87.3],
  [1.434,-89.9],[1.436,-85.1],[1.438,-80.5],[1.439,-85.3],[1.440,-85.0],[1.441,-85.3],[1.443,-91.3],[1.444,-89.2],
  [1.444,-88.8],[1.445,-83.0],[1.446,-82.1],[1.447,-86.3],[1.449,-86.1],[1.450,-88.3],[1.452,-86.5],[1.453,-85.7],
  [1.455,-83.1],[1.457,-87.5],[1.459,-86.0],[1.460,-86.5],[1.461,-84.4],[1.463,-88.0],[1.464,-82.4],[1.465,-84.4],
  [1.466,-90.6],[1.467,-81.0],[1.468,-86.2],[1.469,-89.8],[1.470,-85.4],[1.471,-84.0],[1.472,-91.7],[1.473,-87.8],
  [1.474,-85.6],[1.475,-89.2],[1.476,-82.2],[1.477,-90.5],[1.478,-86.6],[1.479,-84.3],[1.480,-89.8],[1.481,-93.2],
  [1.482,-81.0],[1.483,-87.8],[1.484,-90.2],[1.485,-79.4],[1.486,-84.3],[1.487,-88.0],[1.488,-90.6],[1.489,-82.0],
  [1.490,-86.4],[1.491,-89.9],[1.492,-93.2],[1.493,-80.5],[1.494,-79.6],[1.495,-84.9],[1.496,-87.3],[1.497,-90.1],
  [1.498,-83.4],[1.499,-85.3],[1.500,-93.6],[1.501,-87.0],[1.502,-89.8],[1.503,-91.9],[1.504,-82.6],[1.505,-86.6],
  [1.506,-90.5],[1.507,-84.7],[1.508,-88.0],[1.509,-91.8],[1.510,-93.0],[1.511,-82.2],[1.512,-86.8],[1.513,-84.0],
  [1.514,-90.9],[1.515,-94.0],[1.516,-87.9],[1.517,-83.8],[1.518,-92.4],[1.519,-85.4],[1.520,-80.2],[1.521,-89.0],
  [1.522,-93.7],[1.523,-84.1],[1.524,-81.2],[1.525,-87.6],[1.526,-92.8],[1.527,-85.7],[1.528,-80.6],[1.529,-89.5],
  [1.530,-93.2],[1.531,-83.3],[1.532,-96.0],[1.533,-86.8],[1.534,-90.9],[1.536,-84.2],[1.537,-96.6],[1.538,-89.8],
  [1.539,-85.4],[1.540,-81.3],[1.541,-94.1],[1.542,-87.0],[1.543,-90.4],[1.544,-82.6],[1.545,-95.2],[1.546,-88.5],
  [1.547,-97.7],[1.548,-92.8],[1.549,-85.8],[1.550,-96.4],[1.551,-89.0],[1.552,-94.6],[1.553,-83.0],[1.554,-87.2],
  [1.555,-94.0],[1.556,-81.8],[1.557,-86.5],[1.558,-91.4],[1.559,-84.8],[1.560,-93.0],[1.561,-86.2],[1.562,-95.0],
  [1.563,-91.0],[1.566,-84.9],[1.567,-86.2],[1.570,-88.8],[1.575,-92.8],[1.577,-87.2],[1.580,-86.0],[1.583,-85.2],
  [1.587,-85.8],[1.596,-98.7],[1.598,-99.3],[1.600,-99.6],[1.602,-94.9],[1.609,-100.2],[1.619,-95.6],[1.627,-96.2],
  [1.619,-102.0],[1.465,-88.6],[1.475,-87.0],[1.485,-86.0],[1.495,-89.2],[1.505,-84.1],[1.515,-85.9],[1.525,-90.3],
  [1.432,-84.3],[1.437,-86.9],[1.442,-84.1],[1.448,-87.0],[1.451,-84.8],[1.456,-85.4],[1.458,-89.0],[1.462,-87.0],
  [1.467,-83.6],[1.470,-87.6],[1.473,-82.8],[1.476,-86.2],[1.479,-90.1],[1.482,-85.1],[1.486,-90.0],[1.489,-88.0],
  [1.491,-85.3],[1.494,-91.0],[1.497,-86.4],[1.500,-90.3],[1.503,-86.7],[1.506,-92.0],[1.509,-86.5],[1.512,-89.4],
  [1.515,-91.8],[1.518,-86.9],[1.521,-92.0],[1.524,-87.3],[1.527,-93.8],[1.530,-88.6],[1.533,-92.4],[1.536,-88.1],
  [1.539,-91.6],[1.542,-95.6],[1.545,-90.0],[1.548,-88.0],[1.551,-92.3],[1.554,-84.5],[1.557,-89.9],[1.560,-87.7],
  [1.520,-83.0],[1.510,-84.6],[1.500,-82.4],[1.490,-81.7],[1.535,-82.9],[1.545,-83.8],[1.550,-82.2]
];
const experimentalI: Pt[] = [[1.619, -102.0]];
const cutoffI = -82.0;
const xTicksI = [1.40, 1.45, 1.50, 1.55, 1.60, 1.65];
const yTicksI = [-105, -100, -95, -90, -85, -80];

const structuresJ: Pt[] = [
  [1.509,-107.5],[1.520,-110.6],[1.542,-110.3],[1.551,-109.2],[1.555,-108.9],[1.556,-110.0],[1.558,-115.5],[1.559,-114.8],
  [1.560,-110.3],[1.561,-114.1],[1.570,-111.2],[1.571,-113.0],[1.572,-117.3],[1.574,-110.8],[1.576,-110.8],[1.577,-115.3],
  [1.579,-110.8],[1.582,-112.7],[1.583,-107.2],[1.584,-113.7],[1.586,-117.5],[1.588,-119.5],[1.589,-109.6],[1.590,-110.2],
  [1.591,-114.4],[1.592,-113.0],[1.593,-112.2],[1.594,-114.9],[1.595,-119.6],[1.596,-112.8],[1.597,-118.0],[1.598,-116.2],
  [1.600,-113.4],[1.601,-116.4],[1.602,-113.4],[1.603,-117.0],[1.604,-110.6],[1.605,-114.5],[1.606,-115.8],[1.607,-112.5],
  [1.608,-111.8],[1.609,-115.3],[1.610,-116.8],[1.611,-113.2],[1.612,-110.0],[1.613,-114.6],[1.614,-117.2],[1.615,-109.0],
  [1.616,-114.0],[1.617,-118.3],[1.618,-115.5],[1.619,-117.0],[1.620,-113.0],[1.621,-119.0],[1.622,-115.6],[1.623,-111.2],
  [1.624,-112.0],[1.625,-120.0],[1.626,-115.7],[1.627,-111.8],[1.628,-117.6],[1.629,-115.8],[1.630,-119.7],[1.631,-112.6],
  [1.632,-120.6],[1.633,-115.5],[1.634,-113.0],[1.635,-116.3],[1.636,-111.8],[1.637,-115.0],[1.638,-111.2],[1.639,-115.3],
  [1.640,-114.6],[1.641,-111.5],[1.642,-115.0],[1.643,-111.8],[1.644,-113.5],[1.645,-114.7],[1.646,-119.4],[1.647,-113.8],
  [1.648,-119.0],[1.649,-114.2],[1.650,-111.7],[1.651,-114.5],[1.652,-112.0],[1.653,-117.5],[1.654,-113.2],[1.655,-115.5],
  [1.656,-118.6],[1.657,-113.6],[1.658,-110.2],[1.659,-120.8],[1.660,-115.7],[1.661,-120.2],[1.662,-112.5],[1.663,-121.3],
  [1.664,-119.0],[1.665,-114.5],[1.666,-116.8],[1.667,-112.5],[1.668,-115.8],[1.670,-116.3],[1.671,-112.5],[1.672,-117.0],
  [1.674,-122.3],[1.675,-117.2],[1.676,-118.5],[1.678,-121.0],[1.679,-117.1],[1.680,-115.7],[1.681,-118.0],[1.682,-120.3],
  [1.684,-118.2],[1.685,-114.3],[1.686,-117.8],[1.687,-119.0],[1.688,-118.5],[1.690,-118.1],[1.691,-123.2],[1.693,-112.0],
  [1.695,-116.0],[1.695,-119.8],[1.695,-121.0],[1.705,-118.2],[1.713,-124.4],[1.722,-117.1],[1.668,-120.3],
  [1.565,-112.3],[1.580,-114.9],[1.587,-111.6],[1.599,-115.2],[1.606,-118.0],[1.612,-116.2],[1.619,-112.0],[1.626,-113.7],
  [1.633,-118.4],[1.640,-116.5],[1.646,-115.8],[1.652,-116.0],[1.660,-117.9],[1.666,-118.4],[1.673,-119.6],[1.683,-116.5],
  [1.692,-117.2],[1.643,-117.5],[1.620,-119.8]
];
const experimentalJ: Pt[] = [[1.668, -120.3]];
const cutoffJ = -104.5;
const xTicksJ = [1.50, 1.55, 1.60, 1.65, 1.70, 1.75];
const yTicksJ = [-125, -120, -115, -110, -105, -100, -95];

// ---------------- STYLE / LAYOUT ----------------
const CYAN = '#00bfbf';
const BLUE = '#2079b8';
const SERIF = "'Liberation Serif', 'Times New Roman', serif";

type Marker = 'square' | 'circle' | 'triangle' | 'pentagon';
interface Special { label: string; marker: Marker; points: Pt[] }
interface Panel {
  letter: string;
  col: 0 | 1;
  plot: [number, number, number, number];
  xRange: [number, number];
  yRange: [number, number];
  xTicks: number[];
  yTicks: number[];
  xDec: number;
  structures: Pt[];
  specials: Special[];
  cutoff: number;
  letterPos: [number, number];
  yTitleX: number;
  xTitleBase: number;
}

const exp = (pts: Pt[]): Special[] => [{ label: 'Experimental', marker: 'square', points: pts }];

const panels: Panel[] = [
  { letter: 'A', col: 0, plot: [107, 12, 325, 177], xRange: [1.2, 1.5], yRange: [-140, -110], xTicks: xTicksA, yTicks: yTicksA, xDec: 2,
    structures: structuresA, specials: exp(experimentalA), cutoff: cutoffA, letterPos: [13, 22], yTitleX: 60, xTitleBase: 229 },
  { letter: 'B', col: 1, plot: [509, 14, 742, 180], xRange: [1.282, 1.53], yRange: [-102.9, -74.5], xTicks: xTicksB, yTicks: yTicksB, xDec: 2,
    structures: [...structuresB, ...structuresBExtra],
    specials: [
      { label: 'Form-III', marker: 'circle', points: formIIIB },
      { label: 'Form-112', marker: 'triangle', points: form112B },
      { label: 'Form-107', marker: 'pentagon', points: form107B },
    ], cutoff: cutoffB, letterPos: [377, 20], yTitleX: 456, xTitleBase: 232 },
  { letter: 'C', col: 0, plot: [99, 258, 316, 431], xRange: [1.113, 1.403], yRange: [-117.7, -87.5], xTicks: xTicksC, yTicks: yTicksC, xDec: 2,
    structures: [...structuresC, ...structuresCExtra], specials: exp(experimentalC), cutoff: cutoffC, letterPos: [14, 240], yTitleX: 53, xTitleBase: 484 },
  { letter: 'D', col: 1, plot: [500, 261, 738, 431], xRange: [0.961, 1.264], yRange: [-99.5, -69.6], xTicks: xTicksD, yTicks: yTicksD, xDec: 2,
    structures: [...structuresD, ...structuresDExtra],
    specials: [
      { label: 'Form-II', marker: 'circle', points: formIID },
      { label: "Form-I-Z'=3", marker: 'triangle', points: formIZ3D },
    ], cutoff: cutoffD, letterPos: [378, 240], yTitleX: 457, xTitleBase: 476 },
  { letter: 'E', col: 0, plot: [99, 496, 331, 668], xRange: [1.315, 1.576], yRange: [-102.8, -77.0], xTicks: xTicksE, yTicks: yTicksE, xDec: 2,
    structures: [...structuresE, ...structuresEExtra], specials: exp(experimentalE), cutoff: cutoffE, letterPos: [10, 481], yTitleX: 52, xTitleBase: 715 },
  { letter: 'F', col: 1, plot: [509, 496, 742, 668], xRange: [0.979, 1.511], yRange: [-105.2, -75.5], xTicks: xTicksF, yTicks: yTicksF, xDec: 1,
    structures: [...structuresF, ...structuresFExtra], specials: exp(experimentalF), cutoff: cutoffF, letterPos: [374, 481], yTitleX: 459, xTitleBase: 717 },
  { letter: 'G', col: 0, plot: [89, 753, 331, 926], xRange: [1.5105, 1.84], yRange: [-75.6, -45.5], xTicks: xTicksG, yTicks: yTicksG, xDec: 2,
    structures: structuresG, specials: exp(experimentalG), cutoff: cutoffG, letterPos: [10, 715], yTitleX: 47, xTitleBase: 978 },
  { letter: 'H', col: 1, plot: [500, 748, 742, 921], xRange: [1.0337, 1.3156], yRange: [-63.9, -33.65], xTicks: xTicksH, yTicks: yTicksH, xDec: 2,
    structures: [...structuresH, ...structuresHExtra],
    specials: [
      { label: 'Form-II', marker: 'circle', points: formIIH },
      { label: "Form-I-Z'=4", marker: 'triangle', points: formIZ4H },
    ], cutoff: cutoffH, letterPos: [374, 712], yTitleX: 461, xTitleBase: 963 },
  { letter: 'I', col: 0, plot: [99, 1016, 316, 1189], xRange: [1.4, 1.65], yRange: [-107.2, -77.0], xTicks: xTicksI, yTicks: yTicksI, xDec: 2,
    structures: structuresI, specials: exp(experimentalI), cutoff: cutoffI, letterPos: [2, 958], yTitleX: 52, xTitleBase: 1231 },
  { letter: 'J', col: 1, plot: [509, 1012, 726, 1182], xRange: [1.5, 1.75], yRange: [-126.35, -92.1], xTicks: xTicksJ, yTicks: yTicksJ, xDec: 2,
    structures: structuresJ, specials: exp(experimentalJ), cutoff: cutoffJ, letterPos: [374, 957], yTitleX: 459, xTitleBase: 1249 },
];

const fmt = (v: number, d: number) => {
  const s = Math.abs(v).toFixed(d);
  return v < 0 ? '\u2212' + s : s;
};

function pentagonPath(ctx: CanvasRenderingContext2D, cx: number, cy: number, r: number) {
  ctx.beginPath();
  for (let i = 0; i < 5; i++) {
    const a = -Math.PI / 2 + (i * 2 * Math.PI) / 5;
    const px = cx + r * Math.cos(a);
    const py = cy + r * Math.sin(a);
    if (i === 0) ctx.moveTo(px, py); else ctx.lineTo(px, py);
  }
  ctx.closePath();
}

let pentagonImg: HTMLCanvasElement | null = null;
function getPentagon(): HTMLCanvasElement {
  if (pentagonImg) return pentagonImg;
  const c = document.createElement('canvas');
  c.width = 16; c.height = 16;
  const g = c.getContext('2d')!;
  g.strokeStyle = CYAN; g.lineWidth = 2.4;
  pentagonPath(g, 8, 8.4, 5.6);
  g.stroke();
  pentagonImg = c;
  return c;
}

function drawLegendMarker(ctx: CanvasRenderingContext2D, m: Marker, cx: number, cy: number) {
  ctx.save();
  ctx.strokeStyle = CYAN;
  ctx.lineWidth = 2;
  if (m === 'square') {
    ctx.strokeRect(cx - 3, cy - 3, 6, 6);
  } else if (m === 'circle') {
    ctx.beginPath(); ctx.arc(cx, cy, 3.2, 0, Math.PI * 2); ctx.stroke();
  } else if (m === 'triangle') {
    ctx.lineWidth = 1.8;
    ctx.beginPath();
    ctx.moveTo(cx, cy + 3.8); ctx.lineTo(cx - 3.6, cy - 2.4); ctx.lineTo(cx + 3.6, cy - 2.4); ctx.closePath(); ctx.stroke();
  } else {
    pentagonPath(ctx, cx, cy + 0.3, 3.6); ctx.stroke();
  }
  ctx.restore();
}

const decorPlugin = {
  id: 'panelDecor',
  afterDatasetsDraw(chart: any, _args: any, opts: any) {
    const p: Panel = opts.panel;
    const x0: number = opts.x0;
    const cTop: number = opts.cTop;
    const ctx: CanvasRenderingContext2D = chart.ctx;
    const a = chart.chartArea;
    ctx.save();
    // spines
    ctx.strokeStyle = '#6e6e6e';
    ctx.lineWidth = 1;
    ctx.strokeRect(a.left - 0.5, a.top - 0.5, a.right - a.left + 1, a.bottom - a.top + 1);

    // legend
    const rows: { label: string; marker: Marker | 'line' }[] = [
      ...p.specials.map((s) => ({ label: s.label, marker: s.marker as Marker | 'line' })),
      { label: '+20 kJ/mol', marker: 'line' },
    ];
    const rowH = 11;
    const bw = 61;
    const bh = rows.length * rowH + 3;
    const bx = a.left + 3;
    const by = a.bottom - 4 - bh;
    ctx.beginPath();
    const rr = 2;
    ctx.moveTo(bx + rr, by);
    ctx.lineTo(bx + bw - rr, by); ctx.quadraticCurveTo(bx + bw, by, bx + bw, by + rr);
    ctx.lineTo(bx + bw, by + bh - rr); ctx.quadraticCurveTo(bx + bw, by + bh, bx + bw - rr, by + bh);
    ctx.lineTo(bx + rr, by + bh); ctx.quadraticCurveTo(bx, by + bh, bx, by + bh - rr);
    ctx.lineTo(bx, by + rr); ctx.quadraticCurveTo(bx, by, bx + rr, by);
    ctx.closePath();
    ctx.fillStyle = 'rgba(255,255,255,0.85)';
    ctx.fill();
    ctx.strokeStyle = '#d0d0d0';
    ctx.lineWidth = 0.8;
    ctx.stroke();
    ctx.font = `7px ${SERIF}`;
    ctx.textBaseline = 'middle';
    ctx.textAlign = 'left';
    rows.forEach((r, i) => {
      const cy = by + 2 + rowH * i + rowH / 2;
      if (r.marker === 'line') {
        ctx.strokeStyle = BLUE; ctx.lineWidth = 1.4;
        ctx.beginPath(); ctx.moveTo(bx + 3, cy); ctx.lineTo(bx + 18, cy); ctx.stroke();
      } else {
        drawLegendMarker(ctx, r.marker, bx + 9, cy);
      }
      ctx.fillStyle = '#333';
      ctx.fillText(r.label, bx + 22, cy);
    });

    // panel letter
    ctx.fillStyle = '#000';
    ctx.textBaseline = 'alphabetic';
    ctx.font = `22px ${SERIF}`;
    ctx.fillText(p.letter, p.letterPos[0] - x0, p.letterPos[1] - cTop);

    // x title
    ctx.font = `24px ${SERIF}`;
    const main = 'Density  g/cm';
    const w1 = ctx.measureText(main).width;
    ctx.font = `17px ${SERIF}`;
    const w2 = ctx.measureText('3').width;
    const xc = (a.left + a.right) / 2;
    const xs = xc - (w1 + w2 + 1) / 2;
    const xb = p.xTitleBase - cTop;
    ctx.font = `24px ${SERIF}`;
    ctx.fillText(main, xs, xb);
    ctx.font = `17px ${SERIF}`;
    ctx.fillText('3', xs + w1 + 1, xb - 13);

    // y title
    ctx.translate(p.yTitleX - x0, (a.top + a.bottom) / 2);
    ctx.rotate(-Math.PI / 2);
    ctx.font = `italic 28px 'DejaVu Sans', sans-serif`;
    const wU = ctx.measureText('U').width;
    ctx.font = `italic 17px 'DejaVu Sans', sans-serif`;
    const wL = ctx.measureText('latt').width;
    ctx.font = `23px ${SERIF}`;
    const wK = ctx.measureText(' (kJ/mol)').width;
    let tx = -(wU + wL + wK) / 2;
    ctx.font = `italic 28px 'DejaVu Sans', sans-serif`;
    ctx.fillText('U', tx, 0);
    tx += wU;
    ctx.font = `italic 17px 'DejaVu Sans', sans-serif`;
    ctx.fillText('latt', tx, -8);
    tx += wL;
    ctx.font = `23px ${SERIF}`;
    ctx.fillText(' (kJ/mol)', tx, 0);
    ctx.restore();
  },
};

function specialStyle(m: Marker) {
  if (m === 'square') return { pointStyle: 'rect', pointRadius: 5.6, pointBorderWidth: 2.4, rotation: 0 };
  if (m === 'circle') return { pointStyle: 'circle', pointRadius: 4.8, pointBorderWidth: 2.4, rotation: 0 };
  if (m === 'triangle') return { pointStyle: 'triangle', pointRadius: 5.8, pointBorderWidth: 2.2, rotation: 180 };
  return { pointStyle: getPentagon() as any, pointRadius: 6, pointBorderWidth: 2.4, rotation: 0 };
}

function PanelChart({ panel }: { panel: Panel }) {
  const ref = useRef<HTMLCanvasElement>(null);
  const [L, T, R, B] = panel.plot;
  const x0 = panel.col === 0 ? 0 : 374;
  const cTop = Math.min(T - 40, panel.letterPos[1] - 30);
  const width = 375;
  const height = B + 90 - cTop;

  useEffect(() => {
    const canvas = ref.current;
    if (!canvas) return;
    const toXY = (pts: Pt[]) => pts.map(([x, y]) => ({ x, y }));
    const datasets: any[] = [];
    panel.specials.forEach((s) => {
      const st = specialStyle(s.marker);
      datasets.push({
        label: s.label,
        data: toXY(s.points),
        pointStyle: st.pointStyle,
        pointRadius: st.pointRadius,
        pointBorderWidth: st.pointBorderWidth,
        pointRotation: st.rotation,
        borderColor: CYAN,
        backgroundColor: 'rgba(0,0,0,0)',
        clip: 0,
      });
    });
    datasets.push({
      label: 'structures',
      data: toXY(panel.structures),
      pointStyle: 'circle',
      pointRadius: 2.5,
      pointBorderWidth: 0.9,
      borderColor: '#111',
      backgroundColor: 'rgba(0,0,0,0)',
      clip: 0,
    });
    datasets.push({
      label: '+20 kJ/mol',
      data: [
        { x: panel.xRange[0], y: panel.cutoff },
        { x: panel.xRange[1], y: panel.cutoff },
      ],
      showLine: true,
      borderColor: BLUE,
      borderWidth: 1.6,
      pointRadius: 0,
      clip: 0,
    });

    const tickFont = { family: SERIF, size: 18 };
    const chart = new Chart(canvas, {
      type: 'scatter',
      data: { datasets },
      plugins: [decorPlugin as any],
      options: {
        animation: false,
        responsive: false,
        devicePixelRatio: 1,
        events: [],
        layout: { padding: { left: 0, top: T - cTop, right: width - (R - x0), bottom: 60 } },
        plugins: {
          legend: { display: false },
          tooltip: { enabled: false },
          panelDecor: { panel, x0, cTop },
        } as any,
        scales: {
          x: {
            type: 'linear',
            min: panel.xRange[0],
            max: panel.xRange[1],
            afterFit: (s: any) => { s.height = 30; },
            afterBuildTicks: (s: any) => { s.ticks = panel.xTicks.map((v) => ({ value: v })); },
            ticks: {
              autoSkip: false,
              maxRotation: 0,
              minRotation: 0,
              padding: 1,
              color: '#000',
              font: tickFont,
              callback: (v: any) => fmt(Number(v), panel.xDec),
            },
            grid: { drawOnChartArea: false, drawTicks: true, tickLength: 3, color: '#444', lineWidth: 0.8 },
            border: { display: false },
          },
          y: {
            type: 'linear',
            min: panel.yRange[0],
            max: panel.yRange[1],
            afterFit: (s: any) => { s.width = L - x0; },
            afterBuildTicks: (s: any) => { s.ticks = panel.yTicks.map((v) => ({ value: v })); },
            ticks: {
              autoSkip: false,
              padding: 1,
              color: '#000',
              font: tickFont,
              callback: (v: any) => fmt(Number(v), 0),
            },
            grid: { drawOnChartArea: false, drawTicks: true, tickLength: 3, color: '#444', lineWidth: 0.8 },
            border: { display: false },
          },
        },
      } as any,
    });
    return () => chart.destroy();
  }, [panel]);

  return (
    <canvas
      ref={ref}
      width={width}
      height={height}
      style={{ position: 'absolute', left: x0, top: cTop, width, height }}
    />
  );
}

export default function App() {
  return (
    <div style={{ position: 'absolute', left: 0, top: 0, width: 749, height: 1250, overflow: 'hidden', background: '#fff' }}>
      {panels.map((p) => (
        <PanelChart key={p.letter} panel={p} />
      ))}
    </div>
  );
}
